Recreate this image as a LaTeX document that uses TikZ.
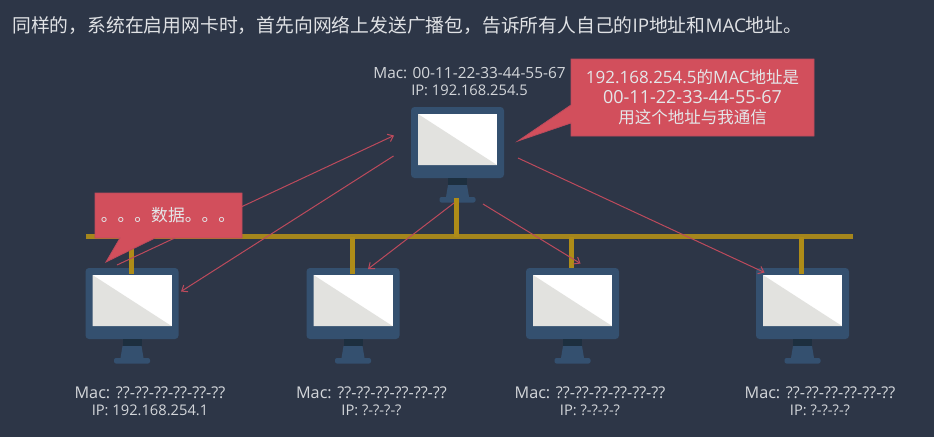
\documentclass[tikz,border=0pt]{standalone}
\usepackage{fontspec}
\setmainfont{Open Sans}
\newfontfamily\cjk{Noto Sans CJK SC}
\usetikzlibrary{arrows.meta}
\definecolor{bgcol}{HTML}{2D3647}
\definecolor{bodycol}{HTML}{34506F}
\definecolor{neckcol}{HTML}{1D2F3F}
\definecolor{shadecol}{HTML}{E2E2DF}
\definecolor{buscol}{HTML}{A5861C}
\definecolor{dropcol}{HTML}{AE8C18}
\definecolor{redfill}{HTML}{D24F5C}
\definecolor{redline}{HTML}{BC4A5C}
\definecolor{txtcol}{HTML}{D3D6DA}
\newcommand{\macsize}{\fontsize{16.2}{17}\selectfont}
\newcommand{\ipsize}{\fontsize{14.7}{17}\selectfont}
\newcommand{\cjksay}[1]{{\cjk\fontsize{16.5}{20}\selectfont #1}}
\tikzset{
  x=1pt,y=-1pt,
  monitor/.pic={
    \fill[bodycol,rounded corners=3.5pt] (-46.5,0) rectangle (46.5,71);
    \fill[white] (-39.5,7) rectangle (39.5,58);
    \fill[shadecol] (-39.5,7) -- (39.5,58) -- (-39.5,58) -- cycle;
    \fill[neckcol] (-9.5,71) rectangle (9.5,78);
    \fill[bodycol] (-9.5,78) -- (9.5,78) -- (11.5,90) -- (-11.5,90) -- cycle;
    \fill[bodycol,rounded corners=2pt] (-18,90) rectangle (18,95.5);
  },
  busline/.style={draw=buscol,line width=5.5pt},
  dropline/.style={draw=dropcol,line width=5pt},
  signal/.style={draw=redline,line width=1pt,-{Straight Barb[length=5pt,width=8pt]}},
  bubble/.style={fill=redfill,draw=redline,line width=0.8pt},
  caption/.style={text=txtcol,font=\fontsize{15.4}{17}\selectfont,align=center,inner sep=0pt},
  saying/.style={text=txtcol!60!white,font=\fontsize{17}{20}\selectfont,align=center,inner sep=0pt},
}
\begin{document}
\begin{tikzpicture}
\useasboundingbox (0,0) rectangle (934,437);
\fill[bgcol] (0,0) rectangle (934,437);

\node[text=txtcol!70!white,font=\fontsize{18.8}{22}\selectfont,anchor=west,inner sep=0pt] (title) at (12,25)
  {{\cjk 同样的，系统在启用网卡时，首先向网络上发送广播包，告诉所有人自己的}IP{\cjk 地址和}MAC{\cjk 地址。}};

% monitors
\pic at (457.5,107) {monitor};
\pic at (132,268) {monitor};
\pic at (353,268) {monitor};
\pic at (572.5,268) {monitor};
\pic at (802.5,268) {monitor};

% bus and drops
\coordinate (busL) at (86,236.5);
\coordinate (busR) at (853,236.5);
\draw[busline] (busL) -- (busR);
\coordinate (t0) at (456,198); \coordinate (b0) at (456,236.5);
\coordinate (t1) at (131,236.5); \coordinate (b1) at (131,274);
\coordinate (t2) at (352,236.5); \coordinate (b2) at (352,274);
\coordinate (t3) at (571,236.5); \coordinate (b3) at (571,268);
\coordinate (t4) at (801,236.5); \coordinate (b4) at (801,274);
\draw[dropline] (t0) -- (b0);
\draw[dropline] (t1) -- (b1);
\draw[dropline] (t2) -- (b2);
\draw[dropline] (t3) -- (b3);
\draw[dropline] (t4) -- (b4);

% signals
\coordinate (a1) at (117,265);  \coordinate (a2) at (394,135.5);
\coordinate (c1) at (393.5,156);\coordinate (c2) at (181,291.5);
\coordinate (d1) at (454,203);  \coordinate (d2) at (368,269);
\coordinate (e1) at (483,204);  \coordinate (e2) at (580.5,263.5);
\coordinate (f1) at (518,158);  \coordinate (f2) at (764.5,272.5);
\draw[signal] (a1) -- (a2);
\draw[signal] (c1) -- (c2);
\draw[signal] (d1) -- (d2);
\draw[signal] (e1) -- (e2);
\draw[signal] (f1) -- (f2);

% callouts
\draw[bubble] (571,59) -- (814,59) -- (814,136) -- (571,136) -- (571,123) -- (518,141) -- (571,105) -- cycle;
\draw[bubble] (95,193) -- (242,193) -- (242,238) -- (155,238) -- (106,262) -- (120,238) -- (95,238) -- cycle;

\node[saying] (say1) at (692.5,97.5)
  {192.168.254.5\cjksay{的}MAC\cjksay{地址是}\\{\fontsize{18}{20}\selectfont 00-11-22-33-44-55-67}\\\cjksay{用这个地址与我通信}};
\node[saying,font=\fontsize{16.8}{20}\selectfont] (say2) at (168,215) {\cjk 。。。数据。。。};

% labels
\node[caption] (l0) at (469.5,82) {Mac: 00-11-22-33-44-55-67\\\ipsize IP: 192.168.254.5};
\node[caption] (l1) at (150,401) {\macsize Mac: ??-??-??-??-??-??\\\ipsize IP: 192.168.254.1};
\node[caption] (l2) at (371.5,401) {\macsize Mac: ??-??-??-??-??-??\\\ipsize IP: ?-?-?-?};
\node[caption] (l3) at (590,401) {\macsize Mac: ??-??-??-??-??-??\\\ipsize IP: ?-?-?-?};
\node[caption] (l4) at (820,401) {\macsize Mac: ??-??-??-??-??-??\\\ipsize IP: ?-?-?-?};
\end{tikzpicture}
\end{document}
